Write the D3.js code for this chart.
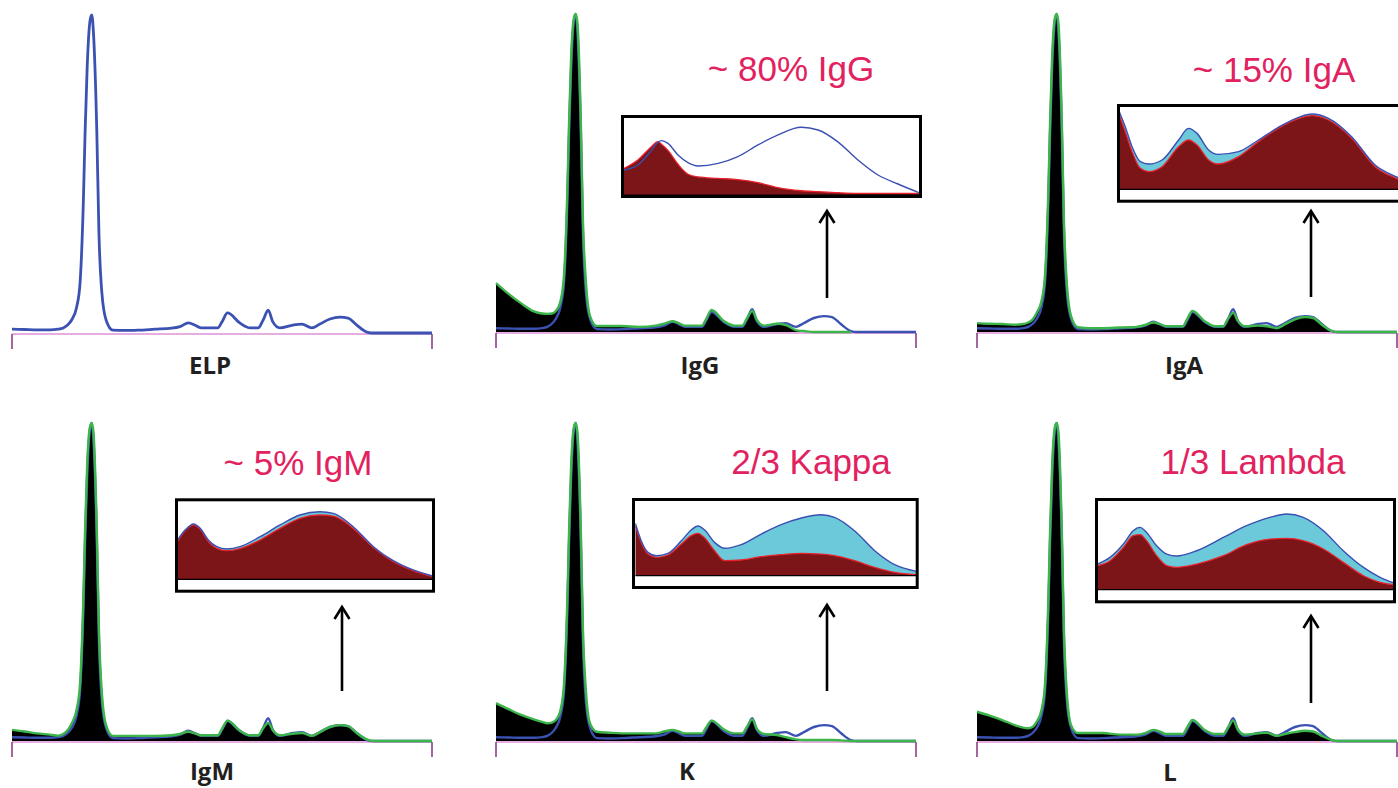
<!DOCTYPE html>
<html>
<head>
<meta charset="utf-8">
<script src="https://cdn.jsdelivr.net/npm/d3@7"></script>
<style>
  html, body { margin: 0; padding: 0; background: #fff; }
  svg { display: block; }
</style>
</head>
<body>
<svg id="chart" width="1398" height="788"></svg>
<script>
// ---- Densitometry traces (relative mobility 0..100, height as % of albumin peak) ----
const mobility = [0, 3, 6, 9, 11, 12.2, 13.3, 14.2, 15.4, 16.2, 17.0, 17.4, 17.9, 18.6, 19.0, 19.4, 20.2, 20.7, 21.4, 22.4,
  24.0, 27, 30, 34, 38, 40, 42, 43.5, 45, 49, 50, 51.3, 54.3, 56.7, 58.6, 59.8, 61, 62.1, 63.8, 66.9,
  69, 71.4, 73.3, 75.7, 78.1, 80, 82.1, 84.5, 86, 100];

// serum electrophoresis profile (blue)
const serumTrace = [1.2, 1.1, 1.0, 1.0, 1.2, 1.6, 2.6, 4.1, 8.2, 15.7, 41.8, 62.9, 83.6, 98.4, 100, 94.3, 62.9, 31.4, 12.6, 4.1,
  0.9, 0.8, 0.9, 1.2, 1.5, 2.0, 3.2, 2.5, 1.6, 1.6, 3.5, 6.3, 3.1, 1.6, 1.6, 4.1, 7.2, 3.5, 1.6, 2.5,
  2.8, 1.6, 2.8, 4.4, 5.0, 4.7, 2.5, 0.3, 0, 0];

// profiles after immunosubtraction (green)
const afterIgG = [15.4, 12.0, 9.0, 6.5, 5.8, 5.7, 5.8, 6.5, 10, 18, 45, 66, 87, 99, 100, 97, 66, 35, 16, 5,
  1.9, 1.9, 1.9, 1.6, 2.0, 2.6, 3.4, 2.8, 2.0, 2.0, 4.0, 6.9, 3.4, 2.0, 2.0, 4.4, 6.6, 3.8, 2.0, 2.6,
  2.2, 0.6, 0.3, 0, 0, 0, 0, 0, null, null];
const afterIgA = [2.8, 2.6, 2.5, 2.3, 2.5, 3.0, 4.0, 6.0, 10, 18, 45, 66, 87, 99, 100, 97, 66, 35, 15, 5,
  1.5, 1.2, 1.2, 1.4, 1.6, 2.2, 3.0, 2.5, 1.8, 1.8, 4.0, 6.6, 3.3, 1.8, 1.8, 4.2, 6.0, 3.5, 1.8, 2.0,
  1.8, 1.2, 2.4, 4.0, 4.7, 4.4, 2.3, 0.3, 0, 0];
const afterIgM = [3.5, 3.0, 2.4, 2.0, 1.7, 2.2, 3.5, 5.5, 10, 18, 45, 66, 87, 99, 100, 97, 66, 35, 15, 5,
  1.6, 1.6, 1.6, 1.6, 1.8, 2.2, 2.9, 2.4, 1.8, 1.8, 3.8, 6.4, 3.2, 1.8, 1.8, 4.0, 5.7, 3.4, 1.8, 2.3,
  2.5, 1.6, 2.8, 4.4, 5.0, 4.7, 2.5, 0.5, 0, 0];
const afterKappa = [11.9, 10.0, 8.2, 6.8, 6.0, 5.6, 5.8, 6.5, 10, 18, 45, 66, 87, 99, 100, 97, 66, 35, 16, 5.5,
  2.9, 2.6, 2.4, 2.4, 2.4, 3.0, 3.5, 3.0, 2.4, 2.4, 4.2, 6.4, 3.6, 2.4, 2.4, 4.6, 6.8, 3.9, 2.2, 1.9,
  1.2, 0.5, 0.3, 0.3, 0.3, 0.3, 0.2, 0, 0, 0];
const afterLambda = [9.2, 8.0, 6.6, 5.0, 4.2, 4.0, 4.5, 6.0, 10, 18, 45, 66, 87, 99, 100, 97, 66, 35, 15, 5,
  2.5, 2.5, 2.5, 2.0, 2.0, 2.5, 3.5, 3.0, 2.2, 2.2, 4.2, 6.6, 3.4, 2.2, 2.2, 4.3, 6.4, 3.6, 2.0, 2.4,
  2.6, 1.6, 2.2, 2.8, 3.2, 3.0, 1.6, 0.3, 0, 0];

// ---- Gamma-zone enlargements: total (blue) vs. remaining after subtraction (red) ----
const igGZoomX = [0, 4.7, 9.3, 11.5, 12.7, 14.9, 18.3, 21.7, 25.1, 31.9, 38.6, 45.4, 52.2, 60.1, 65.8, 72.5, 79.3, 86.1, 92.9, 100];
const igGZoomTotal = [32.5, 39, 58, 68.5, 70.6, 67, 52, 42, 37.7, 41, 49.8, 65, 78, 87.9, 84.4, 69, 45.5, 26, 14.3, 3];
const igGZoomRemain = [34.6, 45.5, 62.8, 69.3, 66, 58, 40, 27, 23.5, 21.6, 20, 16, 9.5, 5.5, 4.3, 3, 2.2, 2.2, 2.2, 2.2];

const igAZoomX = [0, 2, 4.3, 7.1, 9.9, 14.4, 20, 23.3, 26.2, 30.1, 33.4, 40.2, 46.9, 53.6, 60.4, 64.9, 70.5, 78.3, 86.2, 93.8, 100];
const igAZoomTotal = [94, 75.8, 51.6, 33.5, 30.6, 35.5, 59.7, 73.8, 67.7, 47.6, 42.3, 45.6, 59.7, 75, 87.1, 91.1, 85.9, 63.7, 29.4, 14.5, 5];
const igAZoomRemain = [89.9, 69.8, 45.6, 25.4, 21.4, 27.4, 51.6, 59.7, 53.6, 35.5, 30.6, 39.5, 57.7, 73.8, 85.5, 89.1, 83.9, 61.7, 27.4, 12.5, 3];

const igMZoomX = [0, 3, 6.3, 8.9, 12.1, 15.4, 19.3, 24.5, 32.4, 40.2, 48, 55.9, 61.1, 68.9, 76.8, 84.6, 92.4, 100];
const igMZoomTotal = [50, 62.7, 70.3, 64.8, 50, 41.5, 38.6, 41.5, 54.2, 69.1, 81.8, 86, 83.9, 66.9, 41.5, 23.7, 11.9, 4.2];
const igMZoomRemain = [47.9, 61.9, 69.1, 63.6, 47.9, 39.4, 36.4, 39, 50, 64.8, 77.5, 81.8, 80.5, 64.8, 40.3, 22.5, 11, 3.4];

const kappaZoomX = [0, 2.1, 4.5, 7.5, 11.6, 16.4, 19.9, 22.3, 24.7, 28.2, 31.8, 37.7, 44.8, 51.9, 59.1, 66.2, 70.9, 78, 85.2, 92.3, 100];
const kappaZoomTotal = [70.4, 47, 31.4, 26.9, 30, 47, 61.4, 66.8, 61.4, 44.8, 36.8, 41.7, 56, 68.6, 77.6, 82, 78.5, 60.5, 33.6, 14.8, 5.8];
const kappaZoomRemain = [67.3, 44.8, 29.1, 24.7, 27.8, 42.6, 53.8, 57, 50.7, 33.6, 20.2, 21.1, 25.6, 28.3, 30, 29.1, 26.9, 20.2, 11.2, 4.5, 1.3];

const lambdaZoomX = [0, 4.3, 8.8, 12.1, 14.4, 16.6, 20, 23.4, 26.7, 33.5, 42.5, 50.3, 58.2, 63.8, 69.4, 76.2, 82.9, 89.7, 95.3, 100];
const lambdaZoomTotal = [28.8, 36.3, 51.3, 66.3, 70, 64.4, 49.4, 40, 37.8, 43.8, 58.8, 71.9, 81.3, 85, 81.3, 66.3, 43.8, 25.1, 13.9, 7.5];
const lambdaZoomRemain = [27, 32.6, 47.6, 60.7, 61.8, 55.1, 38.2, 27, 25.1, 28.8, 38.2, 50.6, 56.9, 57.7, 55.1, 45.7, 30.7, 15.7, 8.2, 5.6];

// ---- Labels ----
const panelLabels = ["ELP", "IgG", "IgA", "IgM", "K", "L"];
const fractionNotes = ["~ 80% IgG", "~ 15% IgA", "~ 5% IgM", "2/3 Kappa", "1/3 Lambda"];

// ---- Layout ----
const TRACE_W = 420, TRACE_H = 318;
const panelLayout = [
  { x0: 12,  base: 333, labelX: 210,  labelY: 374, after: null },
  { x0: 496, base: 332, labelX: 700,  labelY: 374, after: afterIgG },
  { x0: 977, base: 332, labelX: 1184, labelY: 374, after: afterIgA },
  { x0: 12,  base: 741, labelX: 212,  labelY: 780, after: afterIgM },
  { x0: 496, base: 741, labelX: 687,  labelY: 780, after: afterKappa },
  { x0: 977, base: 741, labelX: 1170, labelY: 781, after: afterLambda }
];

const zoomLayout = [
  { box: [621, 115, 301, 83],   plot: [624, 919, 118, 195],     xs: igGZoomX,    total: igGZoomTotal,    remain: igGZoomRemain,    shade: false,
    note: [791, 81], arrow: [827, 298, 211] },
  { box: [1117, 104, 302, 98.7], plot: [1119.3, 1416, 106.7, 189.3], xs: igAZoomX, total: igAZoomTotal, remain: igAZoomRemain, shade: true,
    note: [1274, 82], arrow: [1311, 297, 211] },
  { box: [175, 498.3, 260, 94.4], plot: [177.5, 432.5, 500.7, 579.3], xs: igMZoomX, total: igMZoomTotal, remain: igMZoomRemain, shade: true,
    note: [298, 475], arrow: [342, 691, 607] },
  { box: [632, 498, 286.7, 91], plot: [635.3, 916.3, 501.3, 575.7], xs: kappaZoomX, total: kappaZoomTotal, remain: kappaZoomRemain, shade: true,
    note: [811, 474], arrow: [827, 691, 605] },
  { box: [1095, 498, 301, 105.3], plot: [1097.3, 1394, 500.7, 589.7], xs: lambdaZoomX, total: lambdaZoomTotal, remain: lambdaZoomRemain, shade: true,
    note: [1253, 474], arrow: [1311, 703, 616] }
];

const COLORS = {
  serum: "#3b52b3", after: "#3cb54a", fill: "#000000",
  axis: "#cc5cc2", tick: "#8c3f8c",
  remainFill: "#7b1517", remainLine: "#e8222c", diffFill: "#6cc9da", totalLine: "#3a4fb2",
  note: "#e2225f", label: "#231f20"
};

const svg = d3.select("#chart");

// ---- Main densitometry panels ----
panelLayout.forEach((p, i) => {
  const g = svg.append("g");
  const x = d3.scaleLinear().domain([0, 100]).range([p.x0, p.x0 + TRACE_W]);
  const y = d3.scaleLinear().domain([0, 100]).range([p.base, p.base - TRACE_H]);

  // baseline with end markers
  g.append("line").attr("x1", x(0)).attr("x2", x(100)).attr("y1", y(0) + 1).attr("y2", y(0) + 1)
    .attr("stroke", COLORS.axis).attr("stroke-width", 1.2);
  [0, 100].forEach(v => {
    g.append("line").attr("x1", x(v)).attr("x2", x(v)).attr("y1", y(0) + 1).attr("y2", y(0) + 16)
      .attr("stroke", COLORS.tick).attr("stroke-width", 1.6);
  });

  const serumPts = mobility.map((m, k) => ({ m, v: serumTrace[k] }));

  if (p.after) {
    const afterPts = mobility.map((m, k) => ({ m, v: p.after[k] }));
    const area = d3.area().defined(d => d.v != null).curve(d3.curveMonotoneX)
      .x(d => x(d.m)).y0(y(0)).y1(d => y(d.v));
    g.append("path").datum(afterPts).attr("d", area).attr("fill", COLORS.fill);

    const line = d3.line().curve(d3.curveMonotoneX).x(d => x(d.m)).y(d => y(d.v));
    g.append("path").datum(serumPts).attr("d", line)
      .attr("fill", "none").attr("stroke", COLORS.serum).attr("stroke-width", 2.4).attr("stroke-linejoin", "round");
    g.append("path").datum(afterPts).attr("d", line.defined(d => d.v != null))
      .attr("fill", "none").attr("stroke", COLORS.after).attr("stroke-width", 2.4).attr("stroke-linejoin", "round");
  } else {
    const line = d3.line().curve(d3.curveMonotoneX).x(d => x(d.m)).y(d => y(d.v));
    g.append("path").datum(serumPts).attr("d", line)
      .attr("fill", "none").attr("stroke", COLORS.serum).attr("stroke-width", 2.8).attr("stroke-linejoin", "round");
  }

  g.append("text").attr("x", p.labelX).attr("y", p.labelY)
    .attr("text-anchor", "middle")
    .attr("font-family", "'Open Sans', 'DejaVu Sans', sans-serif")
    .attr("font-weight", 700).attr("font-size", 24)
    .attr("fill", COLORS.label).text(panelLabels[i]);
});

// ---- Gamma-zone enlargements with notes and arrows ----
zoomLayout.forEach((z, i) => {
  const g = svg.append("g");
  const [left, right, top, base] = z.plot;
  const x = d3.scaleLinear().domain([0, 100]).range([left, right]);
  const y = d3.scaleLinear().domain([0, 100]).range([base, top]);
  const pts = z.xs.map((u, k) => ({ u, t: z.total[k], r: z.remain[k] }));

  const clipId = "zoomclip" + i;
  g.append("clipPath").attr("id", clipId).append("rect")
    .attr("x", left).attr("y", top).attr("width", right - left).attr("height", base - top + 20);
  const inner = g.append("g").attr("clip-path", `url(#${clipId})`);

  if (z.shade) {
    inner.append("path").datum(pts)
      .attr("d", d3.area().curve(d3.curveMonotoneX).x(d => x(d.u)).y0(d => y(d.r)).y1(d => y(d.t)))
      .attr("fill", COLORS.diffFill);
  }
  inner.append("path").datum(pts)
    .attr("d", d3.area().curve(d3.curveMonotoneX).x(d => x(d.u)).y0(y(0)).y1(d => y(d.r)))
    .attr("fill", COLORS.remainFill);
  inner.append("path").datum(pts)
    .attr("d", d3.line().curve(d3.curveMonotoneX).x(d => x(d.u)).y(d => y(d.r)))
    .attr("fill", "none").attr("stroke", COLORS.remainLine).attr("stroke-width", 1.3);
  inner.append("path").datum(pts)
    .attr("d", d3.line().curve(d3.curveMonotoneX).x(d => x(d.u)).y(d => y(d.t)))
    .attr("fill", "none").attr("stroke", COLORS.totalLine).attr("stroke-width", 1.4);
  // thin black line at the base of the enlarged zone
  inner.append("line").attr("x1", left).attr("x2", right).attr("y1", y(0)).attr("y2", y(0))
    .attr("stroke", "#000").attr("stroke-width", 1.2);

  const [bx, by, bw, bh] = z.box;
  g.append("rect").attr("x", bx + 1.5).attr("y", by + 1.5).attr("width", bw - 3).attr("height", bh - 3)
    .attr("fill", "none").attr("stroke", "#000").attr("stroke-width", 3);

  // arrow pointing from the gamma zone up to its enlargement
  const [ax, ay1, ay2] = z.arrow;
  g.append("line").attr("x1", ax).attr("x2", ax).attr("y1", ay1).attr("y2", ay2 + 1)
    .attr("stroke", "#000").attr("stroke-width", 2.6);
  g.append("path")
    .attr("d", `M${ax - 7.5},${ay2 + 12} L${ax},${ay2} L${ax + 7.5},${ay2 + 12}`)
    .attr("fill", "none").attr("stroke", "#000").attr("stroke-width", 2.6).attr("stroke-linejoin", "miter");

  g.append("text").attr("x", z.note[0]).attr("y", z.note[1])
    .attr("text-anchor", "middle")
    .attr("font-family", "'Liberation Sans', Arial, sans-serif")
    .attr("font-size", 35).attr("fill", COLORS.note).text(fractionNotes[i]);
});
</script>
</body>
</html>
